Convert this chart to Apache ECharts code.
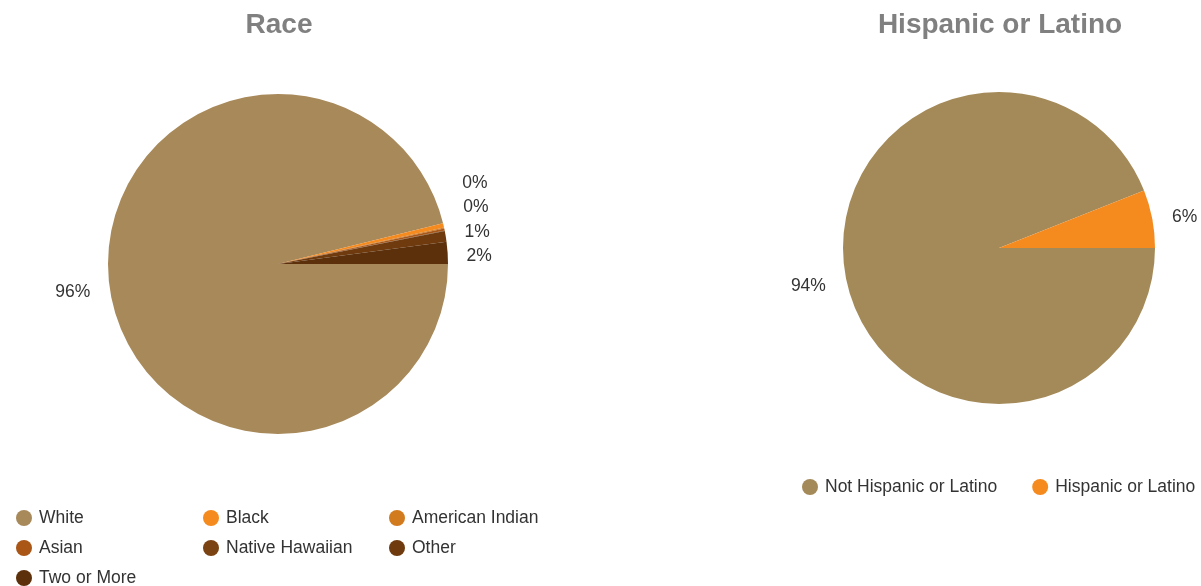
<!DOCTYPE html>
<html>
<head>
<meta charset="utf-8">
<script src="https://cdn.jsdelivr.net/npm/echarts@6/dist/echarts.min.js"></script>
<style>
html,body{margin:0;padding:0;background:#fff;}
#chart{width:1201px;height:586px;}
</style>
</head>
<body>
<div id="chart"></div>
<script>
const raceCategories = ['White', 'Black', 'American Indian', 'Asian', 'Native Hawaiian', 'Other', 'Two or More'];
const raceValues = [96.15, 0.4, 0.1, 0.2, 0.05, 1.0, 2.1];
const raceColors = ['#a8895a', '#f58a1f', '#d27a1e', '#a95617', '#7b4212', '#6e3a0e', '#5c300a'];
const raceHiddenLabels = ['American Indian', 'Native Hawaiian'];

const hispCategories = ['Not Hispanic or Latino', 'Hispanic or Latino'];
const hispValues = [94, 6];
const hispColors = ['#a48a58', '#f58a1f'];

const FONT = '"Liberation Sans", Arial, sans-serif';
const fmt = p => Math.round(p.percent) + '%';

// pie geometry
const RACE_CX = 278, RACE_CY = 264, RACE_R = 170, RACE_LEN = 9, RACE_LEN2 = 5;
const LABEL_STEP = 24.5, LABEL_DY = 4, LEFT_LABEL_DY = 7;

// stack small right-side labels upward from the lowest one
const raceTargets = (function () {
  const total = raceValues.reduce((a, b) => a + b, 0);
  let acc = 0;
  const items = [];
  raceValues.forEach((v, i) => {
    const mid = (acc + v / 2) / total * Math.PI * 2;
    acc += v;
    if (raceHiddenLabels.includes(raceCategories[i])) return;
    if (Math.cos(mid) <= 0) return;
    items.push({ i, y: RACE_CY + (RACE_R + RACE_LEN) * Math.sin(mid) + LABEL_DY });
  });
  items.sort((a, b) => b.y - a.y);
  const out = {};
  let prev = Infinity;
  items.forEach(it => {
    const t = Math.min(it.y, prev - LABEL_STEP);
    out[it.i] = t;
    prev = t;
  });
  return out;
})();

const raceData = raceCategories.map((c, i) => ({
  name: c, value: raceValues[i],
  itemStyle: { color: raceColors[i] },
  label: raceHiddenLabels.includes(c) ? { show: false } : undefined
}));
const hispData = hispCategories.map((c, i) => ({
  name: c, value: hispValues[i], itemStyle: { color: hispColors[i] }
}));

const legendText = { fontFamily: FONT, fontSize: 17.5, color: '#333' };
function itemLegend(name, left, top) {
  return {
    orient: 'horizontal', left: left, top: top, data: [name],
    icon: 'circle', itemWidth: 20, itemHeight: 16,
    textStyle: legendText, selectedMode: false
  };
}
const raceLegendCols = [11, 198, 384];
const raceLegendRows = [504, 534, 564];

const chart = echarts.init(document.getElementById('chart'));
chart.setOption({
  animation: false,
  backgroundColor: '#fff',
  title: [
    { text: 'Race', left: 274, top: 6, textAlign: 'center',
      textStyle: { fontFamily: FONT, fontSize: 28, fontWeight: 'bold', color: '#808080' } },
    { text: 'Hispanic or Latino', left: 995, top: 6, textAlign: 'center',
      textStyle: { fontFamily: FONT, fontSize: 28, fontWeight: 'bold', color: '#808080' } }
  ],
  legend: raceCategories.map((c, i) =>
    itemLegend(c, raceLegendCols[i % 3], raceLegendRows[Math.floor(i / 3)])
  ).concat([
    { orient: 'horizontal', left: 797, top: 473, data: hispCategories,
      icon: 'circle', itemWidth: 20, itemHeight: 16, itemGap: 35,
      textStyle: legendText, selectedMode: false }
  ]),
  series: [
    {
      type: 'pie', center: [RACE_CX, RACE_CY], radius: RACE_R,
      startAngle: 0, clockwise: true,
      data: raceData,
      label: { show: true, position: 'outside', formatter: fmt, width: 40,
        fontFamily: FONT, fontSize: 17.5, color: '#333' },
      labelLine: { show: false, length: RACE_LEN, length2: RACE_LEN2 },
      avoidLabelOverlap: false,
      labelLayout: function (params) {
        if (params.seriesIndex !== 0) return {};
        const t = raceTargets[params.dataIndex];
        return t == null ? { dy: LEFT_LABEL_DY } : { y: t };
      },
      emphasis: { disabled: true }
    },
    {
      type: 'pie', center: [999, 248], radius: 156,
      startAngle: 0, clockwise: true,
      data: hispData,
      label: { show: true, position: 'outside', formatter: fmt, width: 40,
        fontFamily: FONT, fontSize: 17.5, color: '#333' },
      labelLine: { show: false, length: 8, length2: 7 },
      labelLayout: function (params) {
        return params.dataIndex === 0 ? { dy: LEFT_LABEL_DY } : {};
      },
      emphasis: { disabled: true }
    }
  ]
});
</script>
</body>
</html>
